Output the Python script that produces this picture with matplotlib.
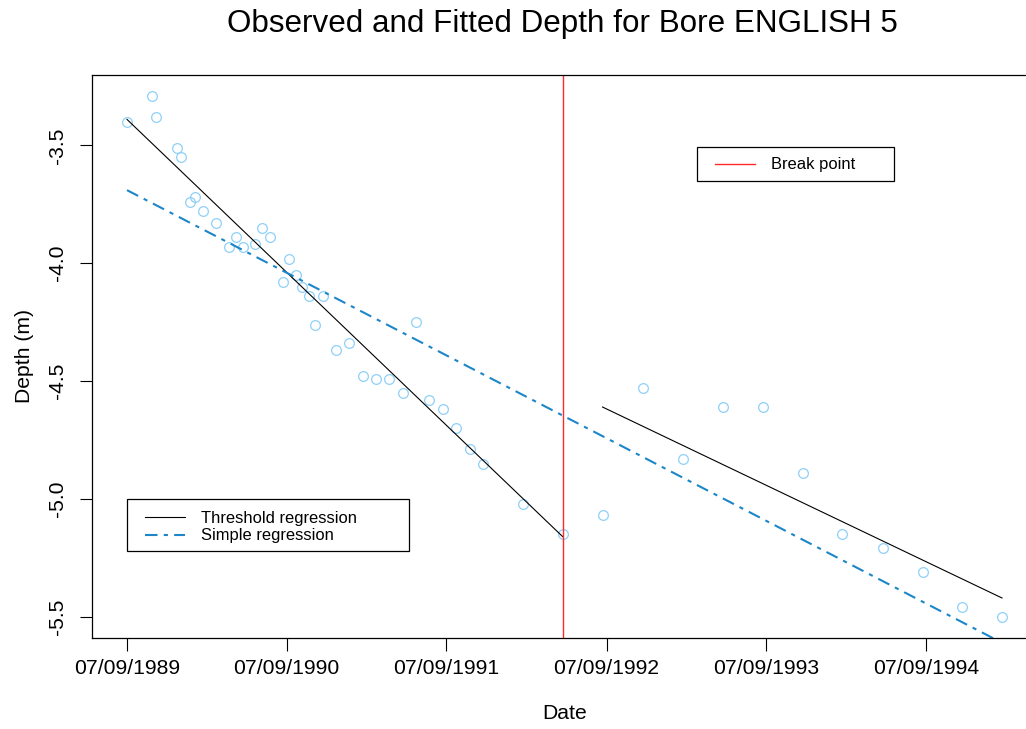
import pandas as pd
import matplotlib
matplotlib.use("Agg")
import matplotlib.pyplot as plt
import matplotlib.dates as mdates
from matplotlib.patches import Rectangle
from matplotlib.lines import Line2D

plt.rcParams['font.family'] = ['Liberation Sans', 'DejaVu Sans']

# observed bore levels
obs_dates = ['1989-09-07', '1989-11-03', '1989-11-12', '1989-12-30', '1990-01-08',
             '1990-01-29', '1990-02-10', '1990-02-28', '1990-03-29', '1990-04-29',
             '1990-05-13', '1990-05-29', '1990-06-26', '1990-07-13', '1990-07-31',
             '1990-08-29', '1990-09-13', '1990-09-29', '1990-10-11', '1990-10-29',
             '1990-11-11', '1990-11-28', '1990-12-29', '1991-01-28', '1991-02-28',
             '1991-03-29', '1991-04-28', '1991-05-30', '1991-06-30', '1991-07-30',
             '1991-08-31', '1991-09-30', '1991-10-30', '1991-11-29', '1992-02-28',
             '1992-05-30', '1992-08-29', '1992-11-30', '1993-02-28', '1993-05-31',
             '1993-08-31', '1993-11-30', '1994-02-28', '1994-05-31', '1994-08-31',
             '1994-11-29', '1995-02-28']
obs_depth = [-3.40, -3.29, -3.38, -3.51, -3.55, -3.74, -3.72, -3.78, -3.83, -3.93,
             -3.89, -3.93, -3.92, -3.85, -3.89, -4.08, -3.98, -4.05, -4.10, -4.14,
             -4.26, -4.14, -4.37, -4.34, -4.48, -4.49, -4.49, -4.55, -4.25, -4.58,
             -4.62, -4.70, -4.79, -4.85, -5.02, -5.15, -5.07, -4.53, -4.83, -4.61,
             -4.61, -4.89, -5.15, -5.21, -5.31, -5.46, -5.50]

# fitted lines (end points)
thresh1_dates = ['1989-09-07', '1992-05-30']
thresh1_depth = [-3.39, -5.16]
thresh2_dates = ['1992-08-29', '1995-02-28']
thresh2_depth = [-4.61, -5.42]
simple_dates = ['1989-09-07', '1995-02-28']
simple_depth = [-3.69, -5.61]

break_date = '1992-05-30'
tick_dates = ['1989-09-07', '1990-09-07', '1991-09-07', '1992-09-07',
              '1993-09-07', '1994-09-07']
y_ticks = [-5.5, -5.0, -4.5, -4.0, -3.5]

W, H = 1026, 729
fig = plt.figure(figsize=(W / 100, H / 100), dpi=100)
# plot region (right edge runs off the image)
ax = fig.add_axes([92 / W, 1 - 637.7 / H, 945 / W, 562.7 / H])

d = pd.to_datetime(obs_dates)
ax.plot(d, obs_depth, linestyle='none', marker='o', markersize=7.0,
        markerfacecolor='none', markeredgecolor='#8fd0f8', markeredgewidth=0.9)

ax.plot(pd.to_datetime(thresh1_dates), thresh1_depth, color='black', lw=0.8)
ax.plot(pd.to_datetime(thresh2_dates), thresh2_depth, color='black', lw=0.8)
ax.plot(pd.to_datetime(simple_dates), simple_depth, color='#1c86c8', lw=1.5,
        linestyle=(0, (6, 3, 2, 3)))
ax.axvline(pd.to_datetime(break_date), color='#ff2a2a', lw=1.0)

# limits padded 4% like R's default
span = d.max() - d.min()
ax.set_xlim(d.min() - span * 0.04, d.max() + span * 0.04)
ymin, ymax = min(obs_depth), max(obs_depth)
pad = (ymax - ymin) * 0.04
ax.set_ylim(ymin - pad, ymax + pad)

ax.set_xticks(pd.to_datetime(tick_dates))
ax.xaxis.set_major_formatter(mdates.DateFormatter('%d/%m/%Y'))
ax.set_yticks(y_ticks)
ax.set_yticklabels(['%.1f' % v for v in y_ticks], rotation=90, va='center')
ax.tick_params(axis='both', length=9, width=0.8, labelsize=15.2, colors='black')
ax.tick_params(axis='x', pad=6)
ax.tick_params(axis='y', pad=9)
for s in ax.spines.values():
    s.set_linewidth(0.9)

ax.set_xlabel('Date', fontsize=15.2, labelpad=19)
ax.set_ylabel('Depth (m)', fontsize=15.2, labelpad=10)
fig.text(562 / W, 1 - 24 / H, 'Observed and Fitted Depth for Bore ENGLISH 5',
         ha='center', va='center', fontsize=22.6)


def px(x, y):
    return (x / W, 1 - y / H)


# legend boxes
def legend_box(x0, y0, x1, y1):
    fig.add_artist(Rectangle(px(x0, y1), (x1 - x0) / W, (y1 - y0) / H,
                             transform=fig.transFigure, fill=True,
                             facecolor='white', edgecolor='black', lw=0.9))


legend_box(127, 499, 409, 551)
h1 = [Line2D([], [], color='black', lw=0.8),
      Line2D([], [], color='#1c86c8', lw=1.5, linestyle=(0, (6, 3, 2, 3)))]
leg1 = fig.legend(h1, ['Threshold regression', 'Simple regression'],
                  loc='center left', bbox_to_anchor=px(145, 527),
                  frameon=False, fontsize=11.9, handlelength=2.4,
                  handletextpad=1.0, labelspacing=0.18, borderpad=0,
                  borderaxespad=0)

legend_box(697, 147, 894, 181)
h2 = [Line2D([], [], color='#ff2a2a', lw=1.0)]
fig.legend(h2, ['Break point'], loc='center left', bbox_to_anchor=px(715, 165),
           frameon=False, fontsize=11.9, handlelength=2.4, handletextpad=1.0,
           borderpad=0, borderaxespad=0)

fig.savefig('out.png', dpi=100)
